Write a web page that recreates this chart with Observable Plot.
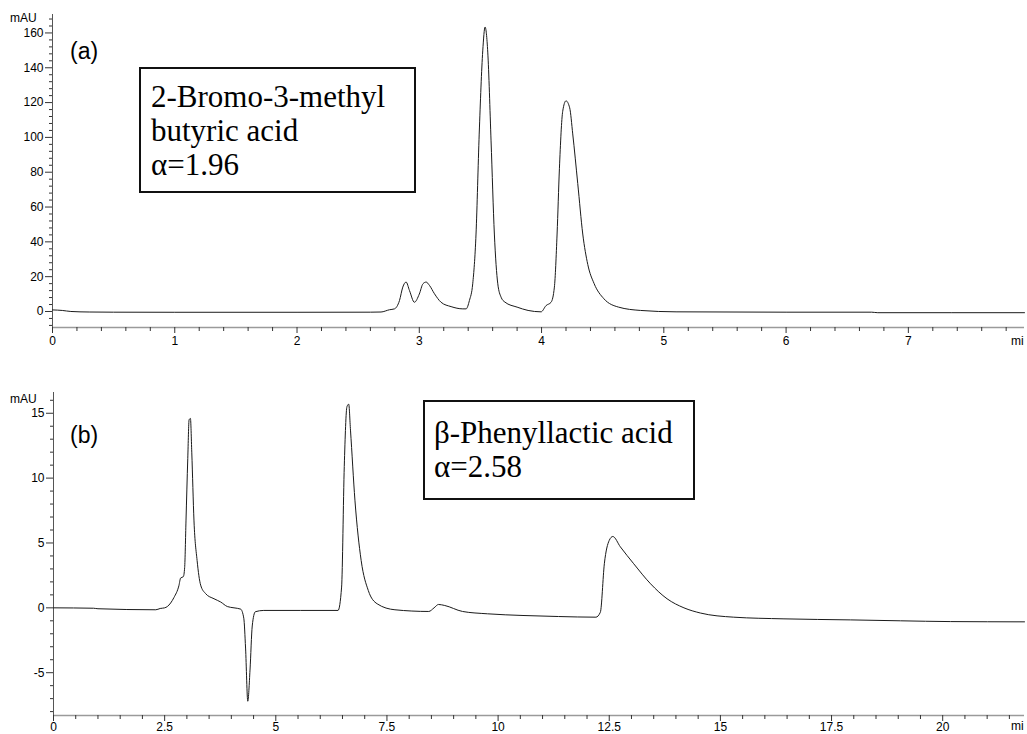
<!DOCTYPE html>
<html>
<head>
<meta charset="utf-8">
<script src="https://cdn.jsdelivr.net/npm/d3@7"></script>
<script src="https://cdn.jsdelivr.net/npm/@observablehq/plot@0.6"></script>
<style>
  html, body { margin: 0; padding: 0; background: #fff; }
  #wrap { position: relative; width: 1027px; height: 734px; overflow: hidden; }
  #wrap svg { display: block; }
  .lab { position: absolute; font-family: "Liberation Sans", Arial, sans-serif; color: #000; white-space: nowrap; }
  .box { position: absolute; box-sizing: border-box; border: 2px solid #111; font-family: "Liberation Serif", "Times New Roman", serif; font-size: 31px; line-height: 34px; color: #000; white-space: nowrap; background: #fff; }
</style>
</head>
<body>
<div id="wrap">
  <div id="chartA"></div>
  <div id="chartB"></div>
  <div class="lab" style="left:10px; top:12px; font-size:12px; line-height:12px;">mAU</div>
  <div class="lab" style="left:1011px; top:335px; font-size:12px; line-height:12px;">mi</div>
  <div class="lab" style="left:70px; top:40px; font-size:23px; line-height:23px;">(a)</div>
  <div class="box" style="left:139px; top:67px; width:277px; height:126px; padding:11px 0 0 10px;">2-Bromo-3-methyl<br>butyric acid<br>α=1.96</div>
  <div class="lab" style="left:10px; top:393px; font-size:12px; line-height:12px;">mAU</div>
  <div class="lab" style="left:1011px; top:720px; font-size:12px; line-height:12px;">mi</div>
  <div class="lab" style="left:70px; top:424px; font-size:23px; line-height:23px;">(b)</div>
  <div class="box" style="left:423px; top:400px; width:272px; height:100px; padding:14px 0 0 9px;">β-Phenyllactic acid<br>α=2.58</div>
</div>
<script>
// ---- Panel (a): 2-Bromo-3-methyl butyric acid ----
const timeA = [0, 0.08, 0.15, 0.3, 0.5, 1.0, 2.0, 2.6, 2.687, 2.756, 2.797, 2.838, 2.865, 2.892, 2.92, 2.96, 3.0, 3.03, 3.056, 3.083, 3.124, 3.178, 3.26, 3.356, 3.383, 3.41, 3.437, 3.464, 3.49, 3.519, 3.538, 3.56, 3.587, 3.614, 3.642, 3.669, 3.70, 3.80, 3.89, 3.996, 4.037, 4.078, 4.105, 4.127, 4.146, 4.173, 4.20, 4.23, 4.255, 4.296, 4.337, 4.378, 4.43, 4.51, 4.63, 4.81, 5.1, 6.0, 6.7, 6.75, 7.95];
const signalA = [0.9, 0.6, 0, -0.3, -0.4, -0.45, -0.45, -0.4, -0.3, 1.0, 1.5, 6.3, 14, 16.9, 12, 5.3, 10, 15.9, 16.9, 15, 10.2, 5.3, 2.8, 1.5, 1.5, 6.3, 15.9, 44.5, 101.9, 149.7, 163.4, 149, 98, 44.5, 15.9, 8.2, 5.4, 2.5, 0.6, -0.2, 3.4, 5.3, 14, 44.5, 82, 115, 121, 117, 102, 73.5, 44.5, 27, 16, 7.3, 2.5, 0.6, -0.2, -0.4, -0.4, -0.7, -0.7];
const xDomainA = [0, 7.95];
const yDomainA = [-9.2, 170.6];
const xTicksA = [0, 1, 2, 3, 4, 5, 6, 7];
const yTicksA = [0, 20, 40, 60, 80, 100, 120, 140, 160];

// ---- Panel (b): beta-Phenyllactic acid ----
const timeB = [0, 0.9, 1.0, 2.3, 2.4, 2.5, 2.56, 2.71, 2.82, 2.86, 2.92, 2.95, 2.98, 3.02, 3.05, 3.08, 3.11, 3.16, 3.23, 3.31, 3.42, 3.61, 3.76, 3.91, 4.06, 4.21, 4.28, 4.32, 4.37, 4.42, 4.47, 4.54, 4.73, 5.56, 6.40, 6.48, 6.54, 6.60, 6.64, 6.68, 6.78, 6.92, 7.08, 7.28, 7.68, 8.44, 8.56, 8.66, 8.80, 9.20, 9.76, 10.56, 11.36, 12.20, 12.30, 12.39, 12.50, 12.58, 12.75, 13.05, 13.43, 13.80, 14.18, 14.55, 15.30, 16.43, 17.93, 19.05, 20.18, 21.84];
const signalB = [0, -0.03, -0.07, -0.15, -0.05, 0, 0.1, 0.8, 1.7, 2.3, 2.4, 3.1, 6.7, 11.5, 14.5, 14.6, 12, 6.7, 3.65, 1.75, 1.1, 0.7, 0.45, 0.1, 0, -0.1, -0.8, -3.1, -7.2, -4.8, -1.4, -0.3, -0.2, -0.2, -0.2, 1.6, 10.9, 15.5, 15.7, 13.7, 8.3, 3.65, 1.34, 0.31, -0.15, -0.28, 0, 0.26, 0.18, -0.28, -0.46, -0.59, -0.67, -0.72, -0.34, 3.4, 5.2, 5.5, 4.7, 3.4, 1.85, 0.7, 0, -0.4, -0.72, -0.85, -0.93, -1.0, -1.06, -1.08];
const xDomainB = [0, 21.84];
const yDomainB = [-8.3, 16.6];
const xTicksB = [0, 2.5, 5, 7.5, 10, 12.5, 15, 17.5, 20];
const yTicksB = [-5, 0, 5, 10, 15];

function minorTicks(lo, hi, step, majorStep) {
  const out = [];
  for (let k = Math.ceil(lo / step); k * step <= hi + 1e-9; k++) {
    const v = +(k * step).toFixed(6);
    const r = Math.abs(v / majorStep - Math.round(v / majorStep));
    if (r > 1e-6) out.push(v);
  }
  return out;
}

const fontStyle = {fontFamily: "'Liberation Sans', Arial, sans-serif", fontSize: "12px", color: "#000", background: "#fff", overflow: "visible"};

function panel({time, signal, xDomain, yDomain, xTicks, yTicks, xMinor, yMinor, height, mt, mb, ml, mr, xPad}) {
  const rows = time.map((t, i) => ({t, v: signal[i]}));
  return Plot.plot({
    width: 1027,
    height,
    marginTop: mt,
    marginBottom: mb,
    marginLeft: ml,
    marginRight: mr,
    style: fontStyle,
    x: {domain: xDomain},
    y: {domain: yDomain},
    marks: [
      Plot.ruleY([yDomain[0]], {stroke: "#9a9a9a", strokeWidth: 1.5}),
      Plot.ruleX([xDomain[0]], {stroke: "#555", strokeWidth: 1}),
      Plot.axisX(xTicks, {anchor: "bottom", tickSize: 6, tickPadding: xPad, tickFormat: d => String(d), label: null, stroke: "#333"}),
      Plot.axisX(xMinor, {anchor: "bottom", tickSize: 4, fill: "none", label: null, stroke: "#333"}),
      Plot.axisY(yTicks, {anchor: "left", tickSize: 7, tickPadding: 2, tickFormat: d => String(d), label: null, stroke: "#333"}),
      Plot.axisY(yMinor, {anchor: "left", tickSize: 3, fill: "none", label: null, stroke: "#333"}),
      Plot.line(rows, {x: "t", y: "v", stroke: "#1a1a1a", strokeWidth: 1, curve: "monotone-x"})
    ]
  });
}

document.getElementById("chartA").append(panel({
  time: timeA, signal: signalA, xDomain: xDomainA, yDomain: yDomainA,
  xTicks: xTicksA, yTicks: yTicksA,
  xMinor: minorTicks(0, 7.95, 0.2, 1), yMinor: minorTicks(-8, 170, 4, 20),
  height: 345, mt: 14, mb: 18, ml: 52, mr: 3, xPad: 3
}));

document.getElementById("chartB").append(panel({
  time: timeB, signal: signalB, xDomain: xDomainB, yDomain: yDomainB,
  xTicks: xTicksB, yTicks: yTicksB,
  xMinor: minorTicks(0, 21.84, 0.5, 2.5), yMinor: minorTicks(-8, 16.6, 1, 5),
  height: 389, mt: 47, mb: 19, ml: 53, mr: 3, xPad: 1
}));
</script>
</body>
</html>
